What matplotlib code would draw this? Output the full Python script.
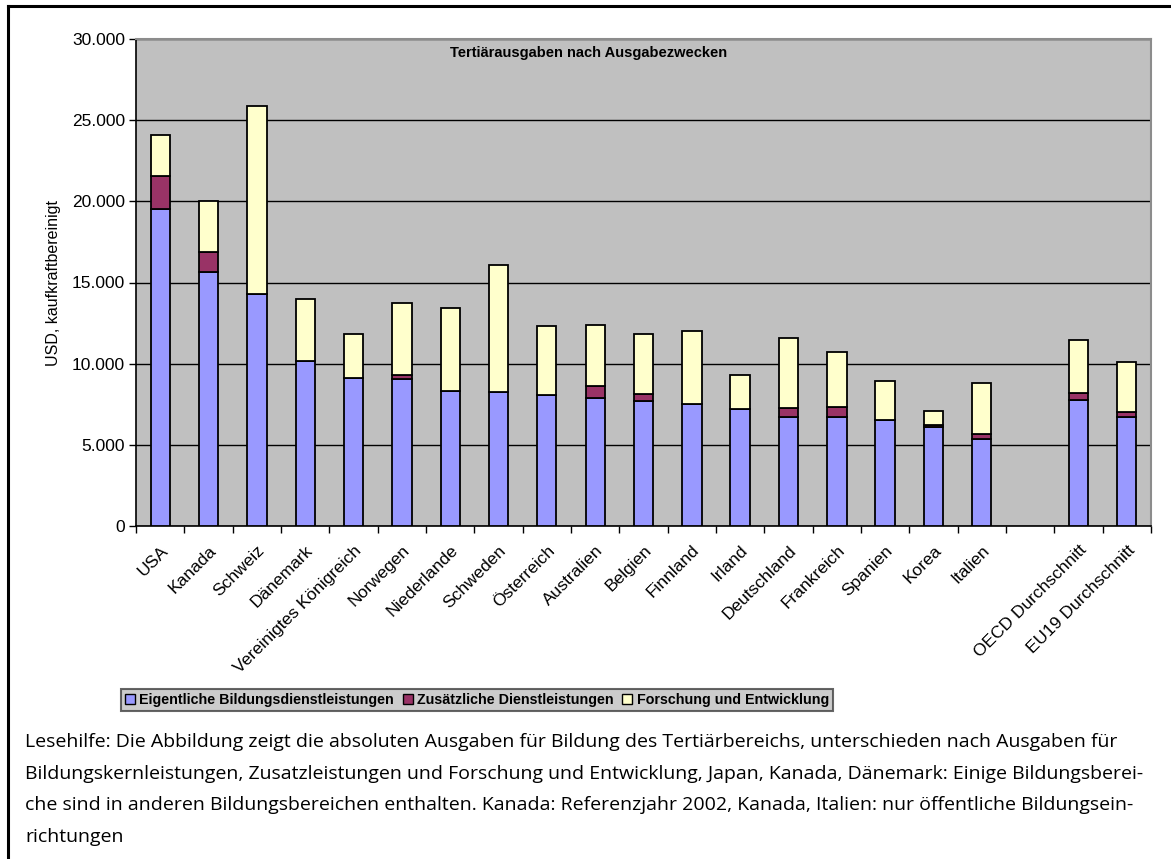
import matplotlib
matplotlib.use("Agg")
import matplotlib.pyplot as plt
import numpy as np
from matplotlib.ticker import FuncFormatter, MultipleLocator, FixedLocator
from matplotlib.lines import Line2D
from matplotlib.patches import Patch

countries = ["USA", "Kanada", "Schweiz", "Dänemark", "Vereinigtes Königreich",
             "Norwegen", "Niederlande", "Schweden", "Österreich", "Australien",
             "Belgien", "Finnland", "Irland", "Deutschland", "Frankreich",
             "Spanien", "Korea", "Italien", "", "OECD Durchschnitt",
             "EU19 Durchschnitt"]

# USD, kaufkraftbereinigt
bildung = [19500, 15650, 14300, 10150, 9100, 9050, 8330, 8270, 8040, 7860,
           7680, 7510, 7190, 6700, 6700, 6560, 6090, 5350, np.nan, 7760, 6700]
zusatz = [2050, 1250, 0, 0, 0, 250, 0, 0, 60, 770,
          460, 0, 0, 550, 620, 0, 150, 320, np.nan, 450, 300]
fue = [2550, 3100, 11600, 3850, 2750, 4450, 5100, 7800, 4230, 3760,
       3680, 4520, 2140, 4310, 3390, 2390, 870, 3110, np.nan, 3250, 3080]

series_names = ["Eigentliche Bildungsdienstleistungen",
                "Zusätzliche Dienstleistungen",
                "Forschung und Entwicklung"]
colors = ["#9999FF", "#993366", "#FFFFCC"]

caption = ("Lesehilfe: Die Abbildung zeigt die absoluten Ausgaben für Bildung des Tertiärbereichs, unterschieden nach Ausgaben für\n"
           "Bildungskernleistungen, Zusatzleistungen und Forschung und Entwicklung, Japan, Kanada, Dänemark: Einige Bildungsberei-\n"
           "che sind in anderen Bildungsbereichen enthalten. Kanada: Referenzjahr 2002, Kanada, Italien: nur öffentliche Bildungsein-\n"
           "richtungen")

plt.rcParams["font.family"] = ["Liberation Sans", "DejaVu Sans"]

W, H = 1171, 859
fig = plt.figure(figsize=(W / 100, H / 100), dpi=100)
ax = fig.add_axes([136 / W, 1 - 526 / H, (1151 - 136) / W, (526 - 39) / H])
ax.set_facecolor("#C0C0C0")

x = np.arange(len(countries))
b1 = np.array(bildung, dtype=float)
b2 = np.array(zusatz, dtype=float)
b3 = np.array(fue, dtype=float)
bw = 0.40
ax.bar(x, b1, bw, color=colors[0], edgecolor="black", linewidth=1.3, zorder=3)
ax.bar(x, b2, bw, bottom=b1, color=colors[1], edgecolor="black", linewidth=1.3, zorder=3)
ax.bar(x, b3, bw, bottom=b1 + b2, color=colors[2], edgecolor="black", linewidth=1.3, zorder=3)

ax.set_xlim(-0.5, len(countries) - 0.5)
ax.set_ylim(0, 30000)
ax.yaxis.set_major_locator(MultipleLocator(5000))
ax.yaxis.set_major_formatter(FuncFormatter(lambda v, p: f"{int(v):,}".replace(",", ".")))
ax.grid(axis="y", color="black", linewidth=1.0, zorder=1)
ax.tick_params(axis="y", direction="out", length=5, width=1, labelsize=12.5, pad=3)

# category boundaries get the tick marks, centers get the labels
ax.xaxis.set_major_locator(FixedLocator(np.arange(len(countries) + 1) - 0.5))
ax.xaxis.set_major_formatter(FuncFormatter(lambda v, p: ""))
ax.xaxis.set_minor_locator(FixedLocator(x))
ax.set_xticklabels(countries, minor=True, rotation=45, ha="right",
                   rotation_mode="anchor", fontsize=12.5)
ax.tick_params(axis="x", which="major", direction="out", length=5, width=1)
ax.tick_params(axis="x", which="minor", length=0, pad=12)

for s in ["left", "bottom"]:
    ax.spines[s].set_color("black")
    ax.spines[s].set_linewidth(1.2)
for s in ["top", "right"]:
    ax.spines[s].set_color("#8C8C8C")
    ax.spines[s].set_linewidth(1.5)

ax.set_ylabel("USD, kaufkraftbereinigt", fontsize=11.5, labelpad=8)

fig.text(589 / W, 1 - 53 / H, "Tertiärausgaben nach Ausgabezwecken",
         ha="center", va="center", fontsize=10.5, fontweight="bold")

handles = [Patch(facecolor=c, edgecolor="black", linewidth=1) for c in colors]
leg = fig.legend(handles, series_names, loc="center", bbox_to_anchor=(477 / W, 1 - 700 / H),
                 ncol=3, frameon=True, fancybox=False,
                 handlelength=0.7, handleheight=0.7, handletextpad=0.3,
                 columnspacing=0.6, borderpad=0.3, prop={"weight": "bold", "size": 10.3})
leg.get_frame().set_facecolor("#C0C0C0")
leg.get_frame().set_edgecolor("#404040")
leg.get_frame().set_linewidth(1.5)

fig.text(25 / W, 1 - 733 / H, caption, ha="left", va="top", fontsize=14.0,
         family=["Open Sans", "DejaVu Sans"], linespacing=1.98)

# outer frame (top and left edges visible in the reference)
fig.add_artist(Line2D([8 / W, 1.0], [1 - 6 / H, 1 - 6 / H], color="black", linewidth=2.2,
                      transform=fig.transFigure))
fig.add_artist(Line2D([8 / W, 8 / W], [1 - 6 / H, 0.0], color="black", linewidth=2.2,
                      transform=fig.transFigure))

fig.savefig("out.png", dpi=100)
